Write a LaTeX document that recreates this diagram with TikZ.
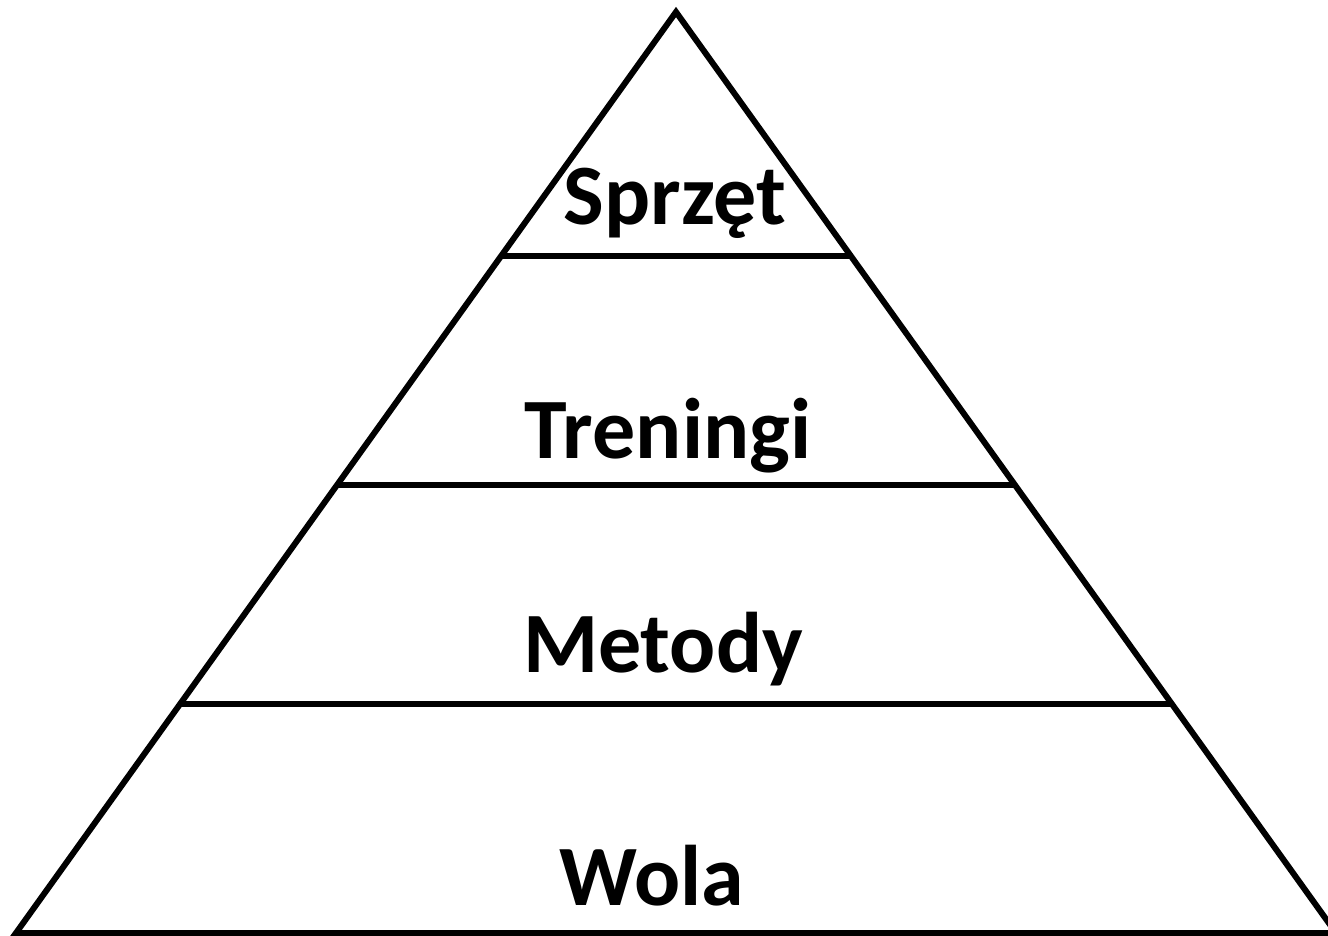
\documentclass[tikz,border=0pt]{standalone}
\usepackage{fontspec}
\setmainfont{Carlito}
\tikzset{
  edge/.style={line width=6pt, black},
  level/.style={font=\bfseries\fontsize{86}{96}\selectfont, anchor=base, inner sep=0pt}
}
\begin{document}
\begin{tikzpicture}[x=1pt, y=-1pt]
  \useasboundingbox (0,0) rectangle (1328,936);
  \clip (0,0) rectangle (1328,936);
  % outline of the pyramid
  \coordinate (apex) at (676,12);
  \coordinate (bl) at (16,933);
  \coordinate (br) at (1336,933);
  \draw[edge, line join=miter] (bl) -- (apex) -- (br) -- cycle;
  % dividing lines between the levels
  \coordinate (l1) at (501,256);  \coordinate (r1) at (850,256);
  \coordinate (l2) at (336,485);  \coordinate (r2) at (1015,485);
  \coordinate (l3) at (179,704);  \coordinate (r3) at (1172,704);
  \draw[edge] (l1) -- (r1);
  \draw[edge] (l2) -- (r2);
  \draw[edge] (l3) -- (r3);
  % level labels
  \node[level] (sprzet) at (675,225) {Sprzęt};
  \node[level] (treningi) at (668,458) {Treningi};
  \node[level] (metody) at (663,672) {Metody};
  \node[level] (wola) at (652,905) {Wola};
\end{tikzpicture}
\end{document}
